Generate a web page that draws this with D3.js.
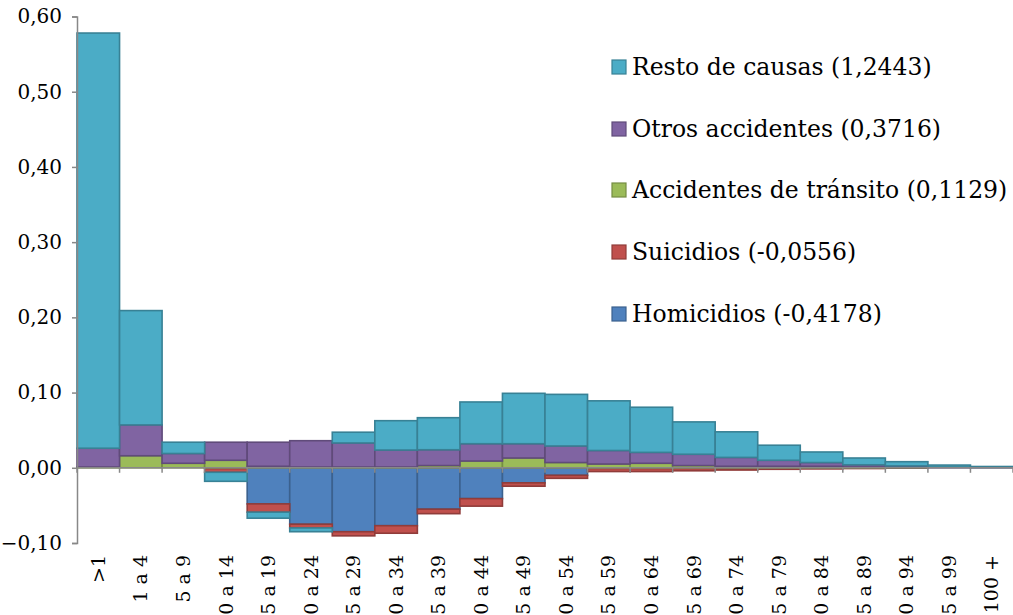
<!DOCTYPE html>
<html>
<head>
<meta charset="utf-8">
<script src="https://cdn.jsdelivr.net/npm/d3@7"></script>
<style>
  html, body { margin: 0; padding: 0; background: #fff; }
  svg { display: block; }
  text { font-family: "DejaVu Serif", serif; fill: #000; }
</style>
</head>
<body>
<svg id="chart" width="1013" height="615"></svg>
<script>
const categories = [">1","1 a 4","5 a 9","10 a 14","15 a 19","20 a 24","25 a 29","30 a 34","35 a 39","40 a 44","45 a 49","50 a 54","55 a 59","60 a 64","65 a 69","70 a 74","75 a 79","80 a 84","85 a 89","90 a 94","95 a 99","100 +"];
const homicidios = [0, 0, 0, -0.001, -0.048, -0.075, -0.085, -0.077, -0.055, -0.041, -0.020, -0.010, -0.001, -0.001, -0.001, -0.001, -0.0005, -0.0005, 0, 0, 0, 0];
const suicidios  = [0, 0, 0, -0.005, -0.011, -0.005, -0.0055, -0.010, -0.006, -0.010, -0.0045, -0.004, -0.004, -0.004, -0.003, -0.002, -0.0015, -0.001, -0.001, -0.0005, 0, 0];
const transito   = [0.001, 0.016, 0.006, 0.010, 0.002, 0.001, 0.001, 0.001, 0.003, 0.009, 0.013, 0.007, 0.005, 0.006, 0.003, 0.002, 0.002, 0.002, 0.001, 0.0005, 0, 0];
const otros      = [0.025, 0.041, 0.013, 0.024, 0.032, 0.035, 0.032, 0.0226, 0.021, 0.023, 0.019, 0.022, 0.018, 0.0145, 0.015, 0.0118, 0.008, 0.005, 0.003, 0.002, 0.001, 0.0005];
const resto      = [0.552, 0.152, 0.015, -0.012, -0.008, -0.005, 0.0143, 0.039, 0.0426, 0.0555, 0.067, 0.0686, 0.066, 0.060, 0.043, 0.034, 0.020, 0.014, 0.009, 0.0056, 0.0026, 0.0012];
const yTicks = [-0.10, 0.00, 0.10, 0.20, 0.30, 0.40, 0.50, 0.60];

const seriesNames = ["Homicidios", "Suicidios", "Accidentes de tránsito", "Otros accidentes", "Resto de causas"];
const seriesValues = [homicidios, suicidios, transito, otros, resto];
const seriesColors = ["#4F81BD", "#C0504D", "#9BBB59", "#8064A2", "#4BACC6"];
const legendLabels = ["Resto de causas (1,2443)", "Otros accidentes (0,3716)", "Accidentes de tránsito (0,1129)", "Suicidios (-0,0556)", "Homicidios (-0,4178)"];
const legendKeys = ["Resto de causas", "Otros accidentes", "Accidentes de tránsito", "Suicidios", "Homicidios"];

const table = categories.map((c, i) => {
  const row = { cat: c };
  seriesNames.forEach((s, j) => row[s] = seriesValues[j][i]);
  return row;
});

const svg = d3.select("#chart");
const mLeft = 77, mRight = 1013, mTop = 16.5, mBottom = 543;

const x = d3.scaleBand().domain(categories).range([mLeft, mRight]).paddingInner(0).paddingOuter(0);
const y = d3.scaleLinear().domain([-0.1, 0.6]).range([mBottom, mTop]);
const color = d3.scaleOrdinal().domain(seriesNames).range(seriesColors);

const stacked = d3.stack().keys(seriesNames).offset(d3.stackOffsetDiverging)(table);

const g = svg.append("g");
stacked.forEach(layer => {
  const c = color(layer.key);
  g.append("g")
    .attr("fill", c)
    .attr("stroke", d3.color(c).darker(0.8))
    .attr("stroke-width", 1.6)
    .selectAll("rect")
    .data(layer)
    .join("rect")
    .attr("x", d => x(d.data.cat))
    .attr("width", x.bandwidth())
    .attr("y", d => y(Math.max(d[0], d[1])))
    .attr("height", d => Math.abs(y(d[0]) - y(d[1])))
    .attr("display", d => Math.abs(d[1] - d[0]) < 1e-9 ? "none" : null);
});

// Y axis
const fmt = v => d3.format(".2f")(v).replace(".", ",");
const yAxis = svg.append("g")
  .attr("transform", `translate(${mLeft},0)`)
  .call(d3.axisLeft(y).tickValues(yTicks).tickSize(5).tickPadding(10).tickFormat(fmt));
yAxis.select(".domain").attr("stroke", "#888").attr("stroke-width", 1.5);
yAxis.selectAll(".tick line").attr("stroke", "#888").attr("stroke-width", 1.5);
yAxis.selectAll("text").style("font-family", "DejaVu Serif").style("font-size", "20px").attr("fill", "#000");

// X axis (at zero) with ticks at band edges
const xg = svg.append("g").attr("transform", `translate(0,${y(0)})`);
xg.append("line").attr("x1", mLeft).attr("x2", mRight).attr("stroke", "#888").attr("stroke-width", 1.5);
const edges = categories.map(c => x(c) + x.bandwidth()).concat([mLeft]);
xg.selectAll("line.tk").data(edges).join("line").attr("class", "tk")
  .attr("x1", d => d).attr("x2", d => d).attr("y1", 0).attr("y2", 5)
  .attr("stroke", "#888").attr("stroke-width", 1.5);

svg.append("g").selectAll("text").data(categories).join("text")
  .attr("transform", d => `translate(${x(d) + x.bandwidth() / 2},555) rotate(-90)`)
  .attr("text-anchor", "end")
  .attr("dy", "0.35em")
  .style("font-size", "19px")
  .text(d => d);

// Legend
const lg = svg.append("g");
const rowY = [67, 129, 190, 252, 314];
legendLabels.forEach((lab, i) => {
  const c = color(legendKeys[i]);
  lg.append("rect").attr("x", 612).attr("y", rowY[i] - 7).attr("width", 14).attr("height", 14)
    .attr("fill", c).attr("stroke", d3.color(c).darker(0.8)).attr("stroke-width", 1.2);
  lg.append("text").attr("x", 632).attr("y", rowY[i]).attr("dy", "0.35em")
    .style("font-size", "23.5px").text(lab);
});
</script>
</body>
</html>
